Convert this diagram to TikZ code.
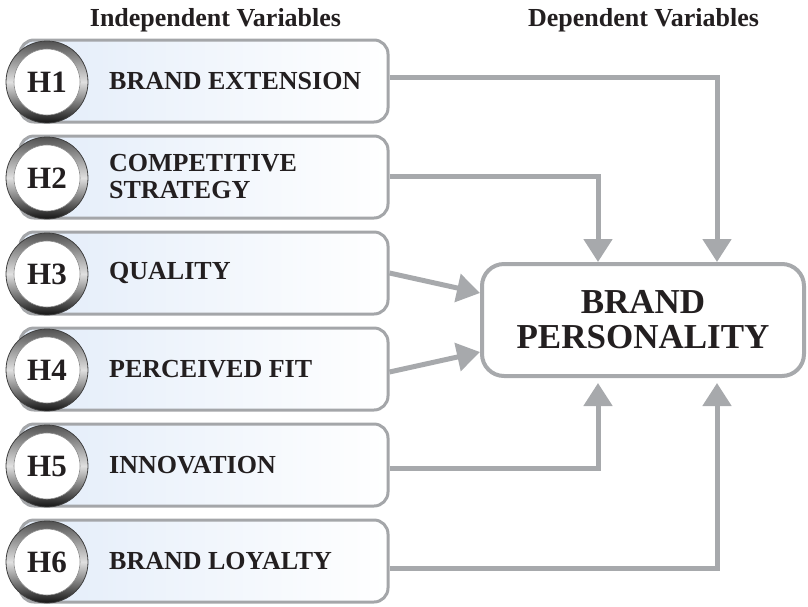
\documentclass[tikz,border=0pt]{standalone}
\usepackage{fontspec}
\setmainfont{Liberation Serif}
\usetikzlibrary{arrows.meta}
\definecolor{arrowgray}{HTML}{A7A9AC}
\definecolor{boxgray}{HTML}{A4A6A9}
\definecolor{boxfill}{HTML}{E2ECF9}
\definecolor{txt}{HTML}{231F20}
\begin{document}
\begin{tikzpicture}[x=1pt,y=-1pt,
  hbox/.style={draw=boxgray, line width=3pt, rounded corners=14pt,
    minimum width=368pt, minimum height=82pt, left color=boxfill,
    right color=white, inner sep=0pt},
  hring/.style={circle, minimum size=82pt, inner sep=0pt,
    top color=black!68, bottom color=black!92, middle color=black!12,
    draw=black!75, line width=0.8pt, text=txt,
    font=\bfseries\fontsize{31}{31}\selectfont,
    path picture={\fill[white, draw=black!45, line width=0.6pt]
      (path picture bounding box.center) circle[radius=33pt];}},
  lbl/.style={anchor=west, inner sep=0pt, text=txt, align=left,
    font=\bfseries\fontsize{26}{27}\selectfont},
  ttl/.style={anchor=base, inner sep=0pt, text=txt,
    font=\bfseries\fontsize{26}{26}\selectfont},
  bpbox/.style={draw=arrowgray, line width=4pt, rounded corners=22pt,
    minimum width=322pt, minimum height=112pt, fill=white, text=txt,
    align=center, font=\bfseries\fontsize{35}{35}\selectfont},
  arr/.style={draw=arrowgray, line width=5pt,
    -{Triangle[length=23pt,width=28pt]}},
]
\useasboundingbox (0,0) rectangle (808,606);

\node[ttl] (t1) at (215.5,26) {Independent Variables};
\node[ttl] (t2) at (643.5,26) {Dependent Variables};

\node[hbox] (b1) at (204,81) {};
\node[hbox] (b2) at (204,177) {};
\node[hbox] (b3) at (204,273) {};
\node[hbox] (b4) at (204,369) {};
\node[hbox] (b5) at (204,465) {};
\node[hbox] (b6) at (204,561) {};

\node[hring] (c1) at (47,82) {H1};
\node[hring] (c2) at (47,178) {H2};
\node[hring] (c3) at (47,274) {H3};
\node[hring] (c4) at (47,370) {H4};
\node[hring] (c5) at (47,466) {H5};
\node[hring] (c6) at (47,562) {H6};

\node[lbl] (l1) at (109,81) {BRAND EXTENSION};
\node[lbl] (l2) at (109,177) {COMPETITIVE\\STRATEGY};
\node[lbl] (l3) at (109,273) {QUALITY};
\node[lbl] (l4) at (109,369) {PERCEIVED FIT};
\node[lbl] (l5) at (109,465) {INNOVATION};
\node[lbl] (l6) at (109,561) {BRAND LOYALTY};

\node[bpbox] (bp) at (643,320) {BRAND\\PERSONALITY};

\draw[arr] ([yshift=4pt]b1.east) -| ([xshift=74pt]bp.north);
\draw[arr] ([yshift=1pt]b2.east) -| ([xshift=-45pt]bp.north);
\draw[arr] (b3.east) -- ([yshift=27pt]bp.west);
\draw[arr] ([yshift=-3pt]b4.east) -- ([yshift=-32pt]bp.west);
\draw[arr, shorten >=5pt] ([yshift=-3pt]b5.east) -| ([xshift=-45pt]bp.south);
\draw[arr, shorten >=5pt] ([yshift=-7pt]b6.east) -| ([xshift=74pt]bp.south);
\end{tikzpicture}
\end{document}
